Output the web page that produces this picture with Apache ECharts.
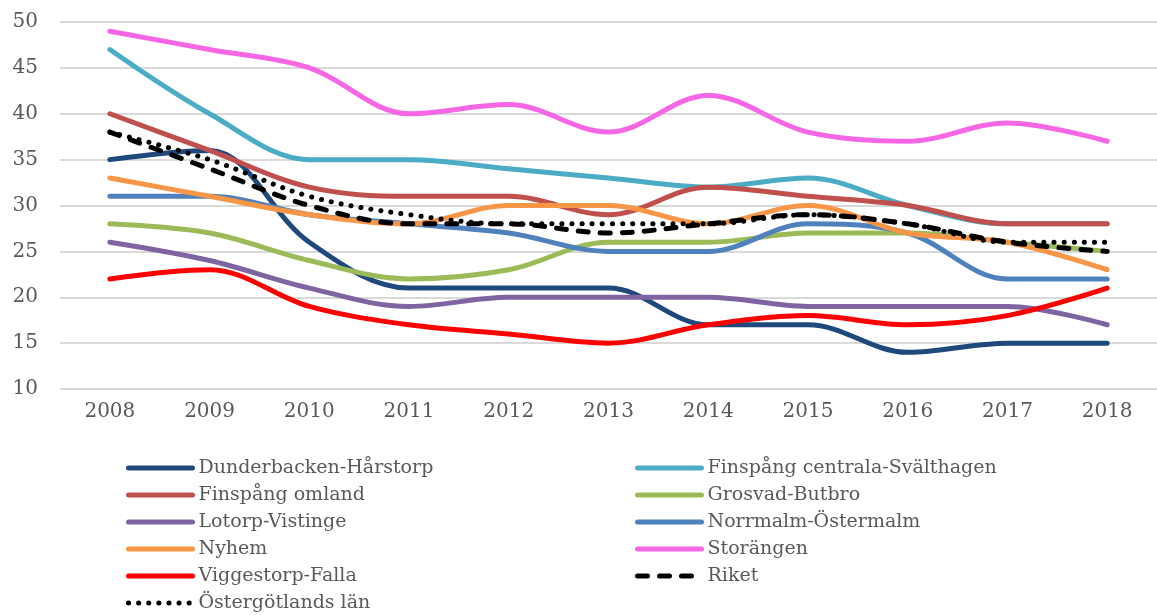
<!DOCTYPE html>
<html>
<head>
<meta charset="utf-8">
<script src="https://cdn.jsdelivr.net/npm/echarts@6/dist/echarts.min.js"></script>
<style>
  html, body { margin: 0; padding: 0; background: #fff; }
  #chart { width: 1157px; height: 615px; }
</style>
</head>
<body>
<div id="chart"></div>
<script>
// years on the x axis
const years = ['2008', '2009', '2010', '2011', '2012', '2013', '2014', '2015', '2016', '2017', '2018'];

// values
const dunderbacken = [35, 36, 26, 21, 21, 21, 17, 17, 14, 15, 15];
const finspangCentrala = [47, 40, 35, 35, 34, 33, 32, 33, 30, 28, 28];
const finspangOmland = [40, 36, 32, 31, 31, 29, 32, 31, 30, 28, 28];
const grosvad = [28, 27, 24, 22, 23, 26, 26, 27, 27, 26, 25];
const lotorp = [26, 24, 21, 19, 20, 20, 20, 19, 19, 19, 17];
const norrmalm = [31, 31, 29, 28, 27, 25, 25, 28, 27, 22, 22];
const nyhem = [33, 31, 29, 28, 30, 30, 28, 30, 27, 26, 23];
const storangen = [49, 47, 45, 40, 41, 38, 42, 38, 37, 39, 37];
const viggestorp = [22, 23, 19, 17, 16, 15, 17, 18, 17, 18, 21];
const riket = [38, 34, 30, 28, 28, 27, 28, 29, 28, 26, 25];
const ostergotland = [38, 35, 31, 29, 28, 28, 28, 29, 28, 26, 26];

const font = 'DejaVu Serif';
const textGray = '#595959';

function line(name, data, color, type) {
    return {
        name: name,
        type: 'line',
        data: data,
        smooth: 0.35,
        symbol: 'none',
        lineStyle: {
            color: color,
            width: 5,
            type: type || 'solid',
            cap: 'round',
            join: 'round'
        },
        itemStyle: { color: color }
    };
}

const series = [
    line('Dunderbacken-Hårstorp', dunderbacken, '#1F497D'),
    line('Finspång centrala-Svälthagen', finspangCentrala, '#4BACC6'),
    line('Finspång omland', finspangOmland, '#C0504D'),
    line('Grosvad-Butbro', grosvad, '#9BBB59'),
    line('Lotorp-Vistinge', lotorp, '#8064A2'),
    line('Norrmalm-Östermalm', norrmalm, '#4F81BD'),
    line('Nyhem', nyhem, '#F79646'),
    line('Storängen', storangen, '#F666E5'),
    line('Viggestorp-Falla', viggestorp, '#FF0000'),
    line('Riket', riket, '#000000', [10, 12]),
    line('Östergötlands län', ostergotland, '#000000', [0.1, 10])
];

// two columns of legend, filled row by row like the original
const legendBase = {
    orient: 'vertical',
    top: 458,
    padding: 0,
    itemWidth: 64,
    itemHeight: 20,
    itemGap: 7,
    itemStyle: { opacity: 0 },
    lineStyle: { width: 5, cap: 'round' },
    textStyle: { fontFamily: font, fontSize: 19, color: textGray, lineHeight: 20, padding: [0, 0, 0, 1] }
};

const option = {
    animation: false,
    backgroundColor: '#ffffff',
    legend: [
        Object.assign({}, legendBase, {
            left: 126,
            data: ['Dunderbacken-Hårstorp', 'Finspång omland', 'Lotorp-Vistinge', 'Nyhem', 'Viggestorp-Falla', 'Östergötlands län']
        }),
        Object.assign({}, legendBase, {
            left: 635,
            data: ['Finspång centrala-Svälthagen', 'Grosvad-Butbro', 'Norrmalm-Östermalm', 'Storängen', 'Riket']
        })
    ],
    grid: {
        left: 60,
        top: 22,
        width: 1111,
        height: 367
    },
    xAxis: {
        type: 'category',
        data: years,
        boundaryGap: true,
        axisLine: { show: false },
        axisTick: { show: false },
        axisLabel: { fontFamily: font, fontSize: 20, color: textGray, margin: 13 }
    },
    yAxis: {
        type: 'value',
        min: 10,
        max: 50,
        interval: 5,
        axisLine: { show: false },
        axisTick: { show: false },
        axisLabel: { fontFamily: font, fontSize: 20, color: textGray, margin: 22 },
        splitLine: { lineStyle: { color: '#d9d9d9', width: 2 } }
    },
    series: series
};

const chart = echarts.init(document.getElementById('chart'));
chart.setOption(option);
</script>
</body>
</html>
